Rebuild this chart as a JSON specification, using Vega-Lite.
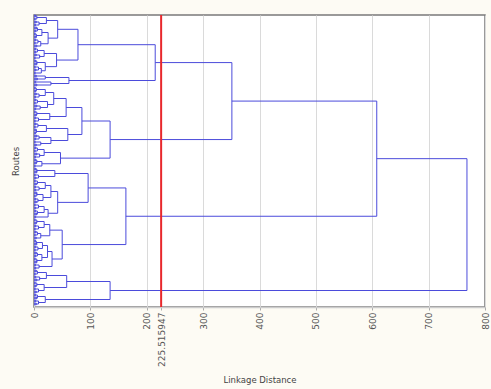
{
  "$schema": "https://vega.github.io/schema/vega-lite/v6.json",
  "width": 451,
  "height": 292,
  "autosize": {"type": "none"},
  "padding": {"left": 34, "top": 15, "right": 6, "bottom": 82},
  "background": "#fdfbf4",
  "config": {
    "view": {"fill": "white", "stroke": "#7a7a7a", "strokeWidth": 1.5},
    "font": "DejaVu Sans"
  },
  "datasets": {
    "nodes": [
      {"d": 5, "ya": 16, "ca": 0, "yb": 19, "cb": 0},
      {"d": 9, "ya": 22, "ca": 0, "yb": 25, "cb": 0},
      {"d": 22, "ya": 17.5, "ca": 5, "yb": 23.5, "cb": 9},
      {"d": 6, "ya": 28, "ca": 0, "yb": 31, "cb": 0},
      {"d": 4, "ya": 34, "ca": 0, "yb": 37, "cb": 0},
      {"d": 14, "ya": 29.5, "ca": 6, "yb": 35.5, "cb": 4},
      {"d": 7, "ya": 40, "ca": 0, "yb": 43, "cb": 0},
      {"d": 12, "ya": 41.5, "ca": 7, "yb": 46, "cb": 0},
      {"d": 25, "ya": 32.5, "ca": 14, "yb": 43.75, "cb": 12},
      {"d": 42, "ya": 20.5, "ca": 22, "yb": 38.125, "cb": 25},
      {"d": 6, "ya": 49, "ca": 0, "yb": 52, "cb": 0},
      {"d": 10, "ya": 55, "ca": 0, "yb": 58, "cb": 0},
      {"d": 18, "ya": 50.5, "ca": 6, "yb": 56.5, "cb": 10},
      {"d": 5, "ya": 61, "ca": 0, "yb": 64, "cb": 0},
      {"d": 8, "ya": 67, "ca": 0, "yb": 70, "cb": 0},
      {"d": 13, "ya": 68.5, "ca": 8, "yb": 73, "cb": 0},
      {"d": 20, "ya": 62.5, "ca": 5, "yb": 70.75, "cb": 13},
      {"d": 40, "ya": 53.5, "ca": 18, "yb": 66.625, "cb": 20},
      {"d": 78, "ya": 29.3, "ca": 42, "yb": 60.06, "cb": 40},
      {"d": 20, "ya": 76, "ca": 0, "yb": 79, "cb": 0},
      {"d": 30, "ya": 82, "ca": 0, "yb": 85, "cb": 0},
      {"d": 62, "ya": 77.5, "ca": 20, "yb": 83.5, "cb": 30},
      {"d": 215, "ya": 44.69, "ca": 78, "yb": 80.5, "cb": 62},
      {"d": 4, "ya": 88, "ca": 0, "yb": 91, "cb": 0},
      {"d": 9, "ya": 94, "ca": 0, "yb": 97, "cb": 0},
      {"d": 20, "ya": 89.5, "ca": 4, "yb": 95.5, "cb": 9},
      {"d": 6, "ya": 100, "ca": 0, "yb": 103, "cb": 0},
      {"d": 11, "ya": 106, "ca": 0, "yb": 109, "cb": 0},
      {"d": 24, "ya": 101.5, "ca": 6, "yb": 107.5, "cb": 11},
      {"d": 35, "ya": 92.5, "ca": 20, "yb": 104.5, "cb": 24},
      {"d": 5, "ya": 112, "ca": 0, "yb": 115, "cb": 0},
      {"d": 8, "ya": 118, "ca": 0, "yb": 121, "cb": 0},
      {"d": 28, "ya": 113.5, "ca": 5, "yb": 119.5, "cb": 8},
      {"d": 57, "ya": 98.5, "ca": 35, "yb": 116.5, "cb": 28},
      {"d": 7, "ya": 124, "ca": 0, "yb": 127, "cb": 0},
      {"d": 4, "ya": 130, "ca": 0, "yb": 133, "cb": 0},
      {"d": 22, "ya": 125.5, "ca": 7, "yb": 131.5, "cb": 4},
      {"d": 9, "ya": 136, "ca": 0, "yb": 139, "cb": 0},
      {"d": 12, "ya": 142, "ca": 0, "yb": 145, "cb": 0},
      {"d": 30, "ya": 137.5, "ca": 9, "yb": 143.5, "cb": 12},
      {"d": 60, "ya": 128.5, "ca": 22, "yb": 140.5, "cb": 30},
      {"d": 85, "ya": 107.5, "ca": 57, "yb": 134.5, "cb": 60},
      {"d": 6, "ya": 148, "ca": 0, "yb": 151, "cb": 0},
      {"d": 10, "ya": 154, "ca": 0, "yb": 157, "cb": 0},
      {"d": 18, "ya": 149.5, "ca": 6, "yb": 155.5, "cb": 10},
      {"d": 5, "ya": 160, "ca": 0, "yb": 163, "cb": 0},
      {"d": 14, "ya": 161.5, "ca": 5, "yb": 166, "cb": 0},
      {"d": 47, "ya": 152.5, "ca": 18, "yb": 163.75, "cb": 14},
      {"d": 135, "ya": 121, "ca": 85, "yb": 158.13, "cb": 47},
      {"d": 351, "ya": 62.59, "ca": 215, "yb": 139.56, "cb": 135},
      {"d": 5, "ya": 169, "ca": 0, "yb": 172, "cb": 0},
      {"d": 8, "ya": 175, "ca": 0, "yb": 178, "cb": 0},
      {"d": 37, "ya": 170.5, "ca": 5, "yb": 176.5, "cb": 8},
      {"d": 6, "ya": 181, "ca": 0, "yb": 184, "cb": 0},
      {"d": 9, "ya": 187, "ca": 0, "yb": 190, "cb": 0},
      {"d": 20, "ya": 182.5, "ca": 6, "yb": 188.5, "cb": 9},
      {"d": 5, "ya": 193, "ca": 0, "yb": 196, "cb": 0},
      {"d": 7, "ya": 199, "ca": 0, "yb": 202, "cb": 0},
      {"d": 16, "ya": 194.5, "ca": 5, "yb": 200.5, "cb": 7},
      {"d": 30, "ya": 185.5, "ca": 20, "yb": 197.5, "cb": 16},
      {"d": 8, "ya": 205, "ca": 0, "yb": 208, "cb": 0},
      {"d": 6, "ya": 211, "ca": 0, "yb": 214, "cb": 0},
      {"d": 18, "ya": 206.5, "ca": 8, "yb": 212.5, "cb": 6},
      {"d": 25, "ya": 209.5, "ca": 18, "yb": 217, "cb": 0},
      {"d": 42, "ya": 191.5, "ca": 30, "yb": 213.25, "cb": 25},
      {"d": 96, "ya": 173.5, "ca": 37, "yb": 202.38, "cb": 42},
      {"d": 5, "ya": 220, "ca": 0, "yb": 223, "cb": 0},
      {"d": 8, "ya": 226, "ca": 0, "yb": 229, "cb": 0},
      {"d": 18, "ya": 221.5, "ca": 5, "yb": 227.5, "cb": 8},
      {"d": 6, "ya": 232, "ca": 0, "yb": 235, "cb": 0},
      {"d": 12, "ya": 233.5, "ca": 6, "yb": 238, "cb": 0},
      {"d": 28, "ya": 224.5, "ca": 18, "yb": 235.75, "cb": 12},
      {"d": 4, "ya": 241, "ca": 0, "yb": 244, "cb": 0},
      {"d": 7, "ya": 247, "ca": 0, "yb": 250, "cb": 0},
      {"d": 15, "ya": 242.5, "ca": 4, "yb": 248.5, "cb": 7},
      {"d": 6, "ya": 253, "ca": 0, "yb": 256, "cb": 0},
      {"d": 5, "ya": 259, "ca": 0, "yb": 262, "cb": 0},
      {"d": 14, "ya": 254.5, "ca": 6, "yb": 260.5, "cb": 5},
      {"d": 24, "ya": 245.5, "ca": 15, "yb": 257.5, "cb": 14},
      {"d": 9, "ya": 265, "ca": 0, "yb": 268, "cb": 0},
      {"d": 32, "ya": 251.5, "ca": 24, "yb": 266.5, "cb": 9},
      {"d": 50, "ya": 230.13, "ca": 28, "yb": 259, "cb": 32},
      {"d": 163, "ya": 187.94, "ca": 96, "yb": 244.56, "cb": 50},
      {"d": 608, "ya": 101.08, "ca": 351, "yb": 216.25, "cb": 163},
      {"d": 6, "ya": 271, "ca": 0, "yb": 274, "cb": 0},
      {"d": 10, "ya": 277, "ca": 0, "yb": 280, "cb": 0},
      {"d": 22, "ya": 272.5, "ca": 6, "yb": 278.5, "cb": 10},
      {"d": 5, "ya": 283, "ca": 0, "yb": 286, "cb": 0},
      {"d": 8, "ya": 289, "ca": 0, "yb": 292, "cb": 0},
      {"d": 18, "ya": 284.5, "ca": 5, "yb": 290.5, "cb": 8},
      {"d": 58, "ya": 275.5, "ca": 22, "yb": 287.5, "cb": 18},
      {"d": 6, "ya": 295, "ca": 0, "yb": 298, "cb": 0},
      {"d": 8, "ya": 301, "ca": 0, "yb": 304, "cb": 0},
      {"d": 20, "ya": 296.5, "ca": 6, "yb": 302.5, "cb": 8},
      {"d": 135, "ya": 281.5, "ca": 58, "yb": 299.5, "cb": 20},
      {"d": 768, "ya": 158.66, "ca": 608, "yb": 290.5, "cb": 135},
      {"d": 3, "ya": 15.2, "ca": 0, "yb": 16.8, "cb": 0},
      {"d": 2, "ya": 18.2, "ca": 0, "yb": 19.8, "cb": 0},
      {"d": 4, "ya": 21.2, "ca": 0, "yb": 22.8, "cb": 0},
      {"d": 2.5, "ya": 24.2, "ca": 0, "yb": 25.8, "cb": 0},
      {"d": 5, "ya": 27.2, "ca": 0, "yb": 28.8, "cb": 0},
      {"d": 3, "ya": 30.2, "ca": 0, "yb": 31.8, "cb": 0},
      {"d": 2, "ya": 33.2, "ca": 0, "yb": 34.8, "cb": 0},
      {"d": 4, "ya": 36.2, "ca": 0, "yb": 37.8, "cb": 0},
      {"d": 3, "ya": 39.2, "ca": 0, "yb": 40.8, "cb": 0},
      {"d": 2, "ya": 42.2, "ca": 0, "yb": 43.8, "cb": 0},
      {"d": 5, "ya": 45.2, "ca": 0, "yb": 46.8, "cb": 0},
      {"d": 2.5, "ya": 48.2, "ca": 0, "yb": 49.8, "cb": 0},
      {"d": 3, "ya": 51.2, "ca": 0, "yb": 52.8, "cb": 0},
      {"d": 4, "ya": 54.2, "ca": 0, "yb": 55.8, "cb": 0},
      {"d": 2, "ya": 57.2, "ca": 0, "yb": 58.8, "cb": 0},
      {"d": 3, "ya": 60.2, "ca": 0, "yb": 61.8, "cb": 0},
      {"d": 5, "ya": 63.2, "ca": 0, "yb": 64.8, "cb": 0},
      {"d": 2, "ya": 66.2, "ca": 0, "yb": 67.8, "cb": 0},
      {"d": 3.5, "ya": 69.2, "ca": 0, "yb": 70.8, "cb": 0},
      {"d": 2, "ya": 72.2, "ca": 0, "yb": 73.8, "cb": 0},
      {"d": 4, "ya": 75.2, "ca": 0, "yb": 76.8, "cb": 0},
      {"d": 6, "ya": 78.2, "ca": 0, "yb": 79.8, "cb": 0},
      {"d": 3, "ya": 81.2, "ca": 0, "yb": 82.8, "cb": 0},
      {"d": 5, "ya": 84.2, "ca": 0, "yb": 85.8, "cb": 0},
      {"d": 2, "ya": 87.2, "ca": 0, "yb": 88.8, "cb": 0},
      {"d": 3, "ya": 90.2, "ca": 0, "yb": 91.8, "cb": 0},
      {"d": 4, "ya": 93.2, "ca": 0, "yb": 94.8, "cb": 0},
      {"d": 2.5, "ya": 96.2, "ca": 0, "yb": 97.8, "cb": 0},
      {"d": 3, "ya": 99.2, "ca": 0, "yb": 100.8, "cb": 0},
      {"d": 2, "ya": 102.2, "ca": 0, "yb": 103.8, "cb": 0},
      {"d": 5, "ya": 105.2, "ca": 0, "yb": 106.8, "cb": 0},
      {"d": 3, "ya": 108.2, "ca": 0, "yb": 109.8, "cb": 0},
      {"d": 2, "ya": 111.2, "ca": 0, "yb": 112.8, "cb": 0},
      {"d": 4, "ya": 114.2, "ca": 0, "yb": 115.8, "cb": 0},
      {"d": 3, "ya": 117.2, "ca": 0, "yb": 118.8, "cb": 0},
      {"d": 2, "ya": 120.2, "ca": 0, "yb": 121.8, "cb": 0},
      {"d": 3.5, "ya": 123.2, "ca": 0, "yb": 124.8, "cb": 0},
      {"d": 2, "ya": 126.2, "ca": 0, "yb": 127.8, "cb": 0},
      {"d": 4, "ya": 129.2, "ca": 0, "yb": 130.8, "cb": 0},
      {"d": 2.5, "ya": 132.2, "ca": 0, "yb": 133.8, "cb": 0},
      {"d": 5, "ya": 135.2, "ca": 0, "yb": 136.8, "cb": 0},
      {"d": 3, "ya": 138.2, "ca": 0, "yb": 139.8, "cb": 0},
      {"d": 2, "ya": 141.2, "ca": 0, "yb": 142.8, "cb": 0},
      {"d": 4, "ya": 144.2, "ca": 0, "yb": 145.8, "cb": 0},
      {"d": 3, "ya": 147.2, "ca": 0, "yb": 148.8, "cb": 0},
      {"d": 2, "ya": 150.2, "ca": 0, "yb": 151.8, "cb": 0},
      {"d": 5, "ya": 153.2, "ca": 0, "yb": 154.8, "cb": 0},
      {"d": 2.5, "ya": 156.2, "ca": 0, "yb": 157.8, "cb": 0},
      {"d": 3, "ya": 159.2, "ca": 0, "yb": 160.8, "cb": 0},
      {"d": 4, "ya": 162.2, "ca": 0, "yb": 163.8, "cb": 0},
      {"d": 2, "ya": 165.2, "ca": 0, "yb": 166.8, "cb": 0},
      {"d": 3, "ya": 168.2, "ca": 0, "yb": 169.8, "cb": 0},
      {"d": 5, "ya": 171.2, "ca": 0, "yb": 172.8, "cb": 0},
      {"d": 2, "ya": 174.2, "ca": 0, "yb": 175.8, "cb": 0},
      {"d": 3.5, "ya": 177.2, "ca": 0, "yb": 178.8, "cb": 0},
      {"d": 2, "ya": 180.2, "ca": 0, "yb": 181.8, "cb": 0},
      {"d": 4, "ya": 183.2, "ca": 0, "yb": 184.8, "cb": 0},
      {"d": 2.5, "ya": 186.2, "ca": 0, "yb": 187.8, "cb": 0},
      {"d": 3, "ya": 189.2, "ca": 0, "yb": 190.8, "cb": 0},
      {"d": 5, "ya": 192.2, "ca": 0, "yb": 193.8, "cb": 0},
      {"d": 2, "ya": 195.2, "ca": 0, "yb": 196.8, "cb": 0},
      {"d": 3, "ya": 198.2, "ca": 0, "yb": 199.8, "cb": 0},
      {"d": 4, "ya": 201.2, "ca": 0, "yb": 202.8, "cb": 0},
      {"d": 2, "ya": 204.2, "ca": 0, "yb": 205.8, "cb": 0},
      {"d": 3, "ya": 207.2, "ca": 0, "yb": 208.8, "cb": 0},
      {"d": 2.5, "ya": 210.2, "ca": 0, "yb": 211.8, "cb": 0},
      {"d": 5, "ya": 213.2, "ca": 0, "yb": 214.8, "cb": 0},
      {"d": 3, "ya": 216.2, "ca": 0, "yb": 217.8, "cb": 0},
      {"d": 2, "ya": 219.2, "ca": 0, "yb": 220.8, "cb": 0},
      {"d": 4, "ya": 222.2, "ca": 0, "yb": 223.8, "cb": 0},
      {"d": 3, "ya": 225.2, "ca": 0, "yb": 226.8, "cb": 0},
      {"d": 2, "ya": 228.2, "ca": 0, "yb": 229.8, "cb": 0},
      {"d": 3.5, "ya": 231.2, "ca": 0, "yb": 232.8, "cb": 0},
      {"d": 2, "ya": 234.2, "ca": 0, "yb": 235.8, "cb": 0},
      {"d": 4, "ya": 237.2, "ca": 0, "yb": 238.8, "cb": 0},
      {"d": 2.5, "ya": 240.2, "ca": 0, "yb": 241.8, "cb": 0},
      {"d": 5, "ya": 243.2, "ca": 0, "yb": 244.8, "cb": 0},
      {"d": 3, "ya": 246.2, "ca": 0, "yb": 247.8, "cb": 0},
      {"d": 2, "ya": 249.2, "ca": 0, "yb": 250.8, "cb": 0},
      {"d": 4, "ya": 252.2, "ca": 0, "yb": 253.8, "cb": 0},
      {"d": 3, "ya": 255.2, "ca": 0, "yb": 256.8, "cb": 0},
      {"d": 2, "ya": 258.2, "ca": 0, "yb": 259.8, "cb": 0},
      {"d": 5, "ya": 261.2, "ca": 0, "yb": 262.8, "cb": 0},
      {"d": 2.5, "ya": 264.2, "ca": 0, "yb": 265.8, "cb": 0},
      {"d": 3, "ya": 267.2, "ca": 0, "yb": 268.8, "cb": 0},
      {"d": 4, "ya": 270.2, "ca": 0, "yb": 271.8, "cb": 0},
      {"d": 2, "ya": 273.2, "ca": 0, "yb": 274.8, "cb": 0},
      {"d": 3, "ya": 276.2, "ca": 0, "yb": 277.8, "cb": 0},
      {"d": 5, "ya": 279.2, "ca": 0, "yb": 280.8, "cb": 0},
      {"d": 2, "ya": 282.2, "ca": 0, "yb": 283.8, "cb": 0},
      {"d": 3.5, "ya": 285.2, "ca": 0, "yb": 286.8, "cb": 0},
      {"d": 2, "ya": 288.2, "ca": 0, "yb": 289.8, "cb": 0},
      {"d": 4, "ya": 291.2, "ca": 0, "yb": 292.8, "cb": 0},
      {"d": 2.5, "ya": 294.2, "ca": 0, "yb": 295.8, "cb": 0},
      {"d": 5, "ya": 297.2, "ca": 0, "yb": 298.8, "cb": 0},
      {"d": 3, "ya": 300.2, "ca": 0, "yb": 301.8, "cb": 0},
      {"d": 4, "ya": 303.2, "ca": 0, "yb": 304.8, "cb": 0}
    ],
    "cut": [{"v": 225.515947}]
  },
  "layer": [
    {
      "data": {"name": "nodes"},
      "mark": {"type": "rule", "color": "#4b4bdb", "strokeWidth": 1},
      "encoding": {
        "x": {
          "field": "d", "type": "quantitative", "title": "Linkage Distance",
          "scale": {"domain": [0, 800], "nice": false, "zero": false},
          "axis": {
            "values": [0, 100, 200, 225.515947, 300, 400, 500, 600, 700, 800],
            "labelExpr": "'' + datum.value",
            "labelAngle": -90,
            "labelFontSize": 9,
            "labelColor": "#555555",
            "labelPadding": 2,
            "labelOverlap": false,
            "labelFlush": false,
            "labelBound": false,
            "tickSize": 3,
            "tickColor": "#aaaaaa",
            "domain": true,
            "domainColor": "#cccccc",
            "domainWidth": 1.5,
            "grid": true,
            "gridColor": "#dadada",
            "titleFontSize": 8.5,
            "titleFontWeight": "normal",
            "titleColor": "#444444",
            "titlePadding": 9
          }
        },
        "y": {
          "field": "ya", "type": "quantitative", "title": "Routes",
          "scale": {"domain": [15, 307], "reverse": true, "nice": false, "zero": false},
          "axis": {
            "labels": false,
            "ticks": false,
            "domain": false,
            "grid": false,
            "titleFontSize": 8.5,
            "titleFontWeight": "normal",
            "titleColor": "#444444",
            "titlePadding": 14
          }
        },
        "y2": {"field": "yb"}
      }
    },
    {
      "data": {"name": "nodes"},
      "mark": {"type": "rule", "color": "#4b4bdb", "strokeWidth": 1},
      "encoding": {
        "x": {"field": "ca", "type": "quantitative", "title": "Linkage Distance"},
        "x2": {"field": "d"},
        "y": {"field": "ya", "type": "quantitative", "title": "Routes"}
      }
    },
    {
      "data": {"name": "nodes"},
      "mark": {"type": "rule", "color": "#4b4bdb", "strokeWidth": 1},
      "encoding": {
        "x": {"field": "cb", "type": "quantitative", "title": "Linkage Distance"},
        "x2": {"field": "d"},
        "y": {"field": "yb", "type": "quantitative", "title": "Routes"}
      }
    },
    {
      "data": {"name": "cut"},
      "mark": {"type": "rule", "color": "#e8282c", "strokeWidth": 2},
      "encoding": {
        "x": {"field": "v", "type": "quantitative", "title": "Linkage Distance"}
      }
    }
  ]
}
